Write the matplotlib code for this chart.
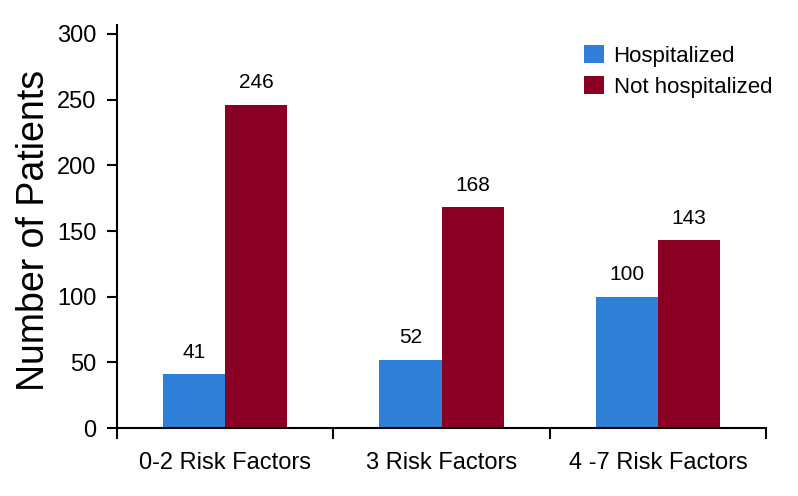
import matplotlib.pyplot as plt
import numpy as np

plt.rcParams['font.family'] = ['Liberation Sans', 'DejaVu Sans']

categories = ['0-2 Risk Factors', '3 Risk Factors', '4 -7 Risk Factors']
hospitalized = [41, 52, 100]
not_hospitalized = [246, 168, 143]

blue = '#2f80d8'
red = '#8a0022'

fig = plt.figure(figsize=(7.98, 4.96), dpi=100)
ax = fig.add_axes([0.1466, 0.137, 0.8134, 0.813])

x = np.arange(len(categories))
w = 0.287
b1 = ax.bar(x - w / 2, hospitalized, w, color=blue, label='Hospitalized')
b2 = ax.bar(x + w / 2, not_hospitalized, w, color=red, label='Not hospitalized')

for bars, vals in ((b1, hospitalized), (b2, not_hospitalized)):
    for bar, v in zip(bars, vals):
        ax.annotate(str(v), (bar.get_x() + bar.get_width() / 2, v),
                    xytext=(0, 9), textcoords='offset points',
                    ha='center', va='bottom', fontsize=15)

ax.set_xlim(-0.5, 2.5)
ax.set_ylim(0, 307)
ax.set_yticks(range(0, 301, 50))
ax.tick_params(axis='y', labelsize=17, length=7, width=1.5, direction='out', pad=8)

# category separators as ticks, labels in between
ax.set_xticks([-0.5, 0.5, 1.5, 2.5])
ax.set_xticklabels([])
ax.set_xticks(x, minor=True)
ax.set_xticklabels(categories, minor=True, fontsize=17)
ax.tick_params(axis='x', which='major', length=8, width=1.5, direction='out')
ax.tick_params(axis='x', which='minor', length=0, pad=17)

for s in ('top', 'right'):
    ax.spines[s].set_visible(False)
for s in ('left', 'bottom'):
    ax.spines[s].set_linewidth(1.5)

ax.set_ylabel('Number of Patients', fontsize=27)
ax.yaxis.set_label_coords(-0.10, 0.49)

ax.legend(loc='upper right', bbox_to_anchor=(1.04, 1.0), frameon=False,
          fontsize=16, handlelength=0.9, handleheight=0.9, handletextpad=0.45,
          labelspacing=0.42)

fig.savefig('out.png', dpi=100)
